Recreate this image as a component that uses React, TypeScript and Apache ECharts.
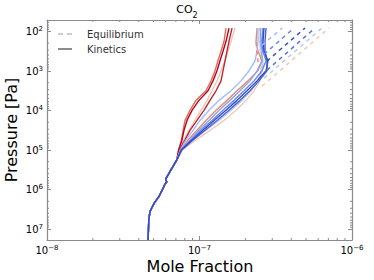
import React, { useEffect, useRef } from 'react';
import * as echarts from 'echarts';

// ---------- data ----------
const UNIT = 1e-8; // mole fractions below are given in units of 1e-8

// shared deep profile (all runs coincide below ~2e5 Pa)
const deepPressure = [1.9e7, 5.9e6, 3.7e6, 2.75e6, 2.1e6, 1.55e6, 1.03e6, 7.2e5, 6.5e5, 5.5e5, 3.2e5, 1.8e5];
const deepFraction = [4.6, 4.65, 4.73, 4.9, 5.1, 5.4, 5.7, 5.95, 6.1, 6.0, 6.5, 7.1];

// pressure grid of the upper atmosphere
const upperPressure = [1e5, 5.6e4, 3.2e4, 1.8e4, 1e4, 5.6e3, 3.2e3, 1.8e3, 1e3, 560, 320, 180, 83];

// kinetics runs (upper part)
const kinL1 = [7.3, 7.62, 7.8, 8.04, 8.66, 9.48, 11.03, 11.9, 12.64, 13.22, 13.84, 14.48, 14.92];
const kinL2 = [7.3, 7.68, 7.91, 8.28, 8.93, 9.92, 11.37, 12.26, 13.02, 13.63, 14.26, 14.92, 15.61];
const kinL3 = [7.4, 8.04, 8.66, 9.63, 10.7, 11.72, 12.83, 13.84, 14.26, 14.7, 15.15, 15.61, 16.34];
const kinL4 = [7.35, 7.91, 8.53, 9.34, 10.23, 11.2, 12.08, 13.02, 13.84, 14.7, 15.38, 16.09, 17.09];
const kinR1 = [7.5, 8.16, 9.07, 10.08, 11.54, 13.43, 16.09, 18.72, 21.12, 23.12, 23.83, 24.19, 24.19];
const kinR2 = [7.55, 8.66, 9.92, 11.54, 13.43, 15.85, 18.44, 21.44, 23.83, 25.7, 25.7, 25.31, 24.93];
const kinR3 = [7.6, 8.8, 10.23, 12.08, 14.26, 16.84, 19.58, 22.78, 25.7, 27.3, 26.09, 25.7, 26.09];
const kinR4 = [7.6, 8.93, 10.54, 12.45, 14.92, 17.62, 20.49, 23.83, 27.3, 28.13, 26.48, 26.09, 26.48];
const kinR5 = [7.65, 9.07, 10.87, 13.02, 15.61, 18.44, 21.44, 24.56, 27.71, 27.71, 26.89, 26.89, 27.3];
const kinR6 = [7.5, 8.41, 9.63, 11.03, 12.83, 15.15, 17.62, 20.8, 24.19, 25.7, 24.19, 23.48, 23.83];
const kinR7 = [7.7, 9.48, 11.72, 14.48, 17.35, 20.18, 22.78, 24.93, 25.31, 25.31, 24.93, 24.93, 25.31];
const kinR8 = [7.65, 9.07, 11.03, 13.43, 16.09, 19.0, 21.77, 24.19, 25.7, 26.09, 25.31, 24.93, 25.31];

// equilibrium runs (where they depart from kinetics)
const eqP1 = [226, 83];   const eqX1 = [25.7, 34.8];
const eqP2 = [381, 83];   const eqX2 = [26.5, 41.7];
const eqP3 = [572, 83];   const eqX3 = [27.7, 49.2];
const eqP4 = [966, 83];   const eqX4 = [27.7, 57.2];
const eqP5 = [1540, 83];  const eqX5 = [26.5, 63.5];
const eqP6 = [2450, 83];  const eqX6 = [25.7, 70.6];
const eqP7 = [610, 190];  const eqX7 = [24.2, 23.5];

const minorMantissas = [2, 3, 4, 5, 6, 7, 8, 9];
const xDecades = [1e-8, 1e-7];
const yDecades = [10, 100, 1e3, 1e4, 1e5, 1e6];

// ---------- styles ----------
const FONT = 'DejaVu Sans';
const FRAME = '#8a8a8a';
const X_MIN = 1e-8, X_MAX = 1e-6;
const Y_MIN = 52, Y_MAX = 1.9e7;

const kineticsRuns: [number[], string][] = [
  [kinL1, '#e36c55'],
  [kinL4, '#f2c6b0'],
  [kinL2, '#b40426'],
  [kinL3, '#c0282f'],
  [kinR7, '#f2cab5'],
  [kinR6, '#ef886b'],
  [kinR8, '#b2ccfb'],
  [kinR1, '#9dbdff'],
  [kinR2, '#84a7fc'],
  [kinR3, '#6687ed'],
  [kinR5, '#4a63d3'],
  [kinR4, '#3b4cc0'],
];

const eqRuns: [number[], number[], string][] = [
  [eqP6, eqX6, '#f2cab5'],
  [eqP5, eqX5, '#b2ccfb'],
  [eqP4, eqX4, '#5572df'],
  [eqP3, eqX3, '#3b4cc0'],
  [eqP2, eqX2, '#6687ed'],
  [eqP1, eqX1, '#9dbdff'],
  [eqP7, eqX7, '#ef886b'],
];

function powLabel(v: number): string {
  const l = Math.log10(v);
  const n = Math.round(l);
  if (Math.abs(l - n) > 1e-6) return '';
  const s = n < 0 ? '\u2212' + Math.abs(n) : String(n);
  return '{b|10}{s|' + s + '}';
}

const labelRich = {
  b: { fontSize: 10, lineHeight: 11, verticalAlign: 'bottom', fontFamily: FONT, color: '#000' },
  s: { fontSize: 7, lineHeight: 6, verticalAlign: 'top', fontFamily: FONT, color: '#000' },
};

export default function App() {
  const ref = useRef<HTMLDivElement>(null);

  useEffect(() => {
    if (!ref.current) return;
    const chart = echarts.init(ref.current, undefined, { renderer: 'svg' });

    const deepPoints = deepPressure.map((p, i) => [deepFraction[i] * UNIT, p]);

    const kinSeries = kineticsRuns.map(([arr, color]) => ({
      type: 'line',
      xAxisIndex: 0,
      yAxisIndex: 0,
      showSymbol: false,
      silent: true,
      lineStyle: { color, width: 1.4 },
      data: [...deepPoints, ...upperPressure.map((p, i) => [arr[i] * UNIT, p])],
    }));

    const eqSeries = eqRuns.map(([ps, xs, color]) => ({
      type: 'line',
      xAxisIndex: 0,
      yAxisIndex: 0,
      showSymbol: false,
      silent: true,
      lineStyle: { color, width: 1.5, type: [4, 4] },
      data: ps.map((p, i) => [xs[i] * UNIT, p]),
    }));

    const xMinor: number[] = [];
    xDecades.forEach((d) => minorMantissas.forEach((m) => xMinor.push(m * d)));
    const yMinor: number[] = [];
    yDecades.forEach((d) => minorMantissas.forEach((m) => {
      const v = m * d;
      if (v > Y_MIN && v < Y_MAX) yMinor.push(v);
    }));

    const minorX = {
      type: 'custom',
      xAxisIndex: 0,
      yAxisIndex: 0,
      silent: true,
      clip: false,
      data: xMinor.map((v) => [v, 1000]),
      renderItem: (params: any, api: any) => {
        const cs = params.coordSys;
        const px = api.coord([api.value(0), 1000])[0];
        const st = { stroke: FRAME, lineWidth: 1 };
        return {
          type: 'group',
          children: [
            { type: 'line', shape: { x1: px, y1: cs.y + cs.height, x2: px, y2: cs.y + cs.height - 2 }, style: st },
            { type: 'line', shape: { x1: px, y1: cs.y, x2: px, y2: cs.y + 2 }, style: st },
          ],
        };
      },
    };

    const minorY = {
      type: 'custom',
      xAxisIndex: 0,
      yAxisIndex: 0,
      silent: true,
      clip: false,
      data: yMinor.map((v) => [1e-7, v]),
      renderItem: (params: any, api: any) => {
        const cs = params.coordSys;
        const py = api.coord([1e-7, api.value(1)])[1];
        const st = { stroke: FRAME, lineWidth: 1 };
        return {
          type: 'group',
          children: [
            { type: 'line', shape: { x1: cs.x, y1: py, x2: cs.x + 2, y2: py }, style: st },
            { type: 'line', shape: { x1: cs.x + cs.width, y1: py, x2: cs.x + cs.width - 2, y2: py }, style: st },
          ],
        };
      },
    };

    const axisCommon = {
      axisLine: { show: true, lineStyle: { color: FRAME, width: 1.2 } },
      axisTick: { show: true, inside: true, length: 4, lineStyle: { color: FRAME, width: 1 } },
      splitLine: { show: false },
      minorTick: { show: false },
    };

    const option: any = {
      animation: false,
      backgroundColor: '#ffffff',
      grid: { left: 47, right: 22, top: 20, bottom: 40, containLabel: false, outerBoundsMode: 'none' },
      xAxis: [
        {
          type: 'log', logBase: 10, min: X_MIN, max: X_MAX, position: 'bottom',
          ...axisCommon,
          axisLabel: {
            show: true, margin: 4, interval: 0, showMinLabel: true, showMaxLabel: true,
            formatter: powLabel, rich: labelRich, fontFamily: FONT,
          },
        },
        {
          type: 'log', logBase: 10, min: X_MIN, max: X_MAX, position: 'top',
          ...axisCommon,
          axisLabel: { show: false },
        },
      ],
      yAxis: [
        {
          type: 'log', logBase: 10, min: Y_MIN, max: Y_MAX, inverse: true, position: 'left',
          ...axisCommon,
          axisLabel: {
            show: true, margin: 4, interval: 0,
            formatter: powLabel, rich: labelRich, fontFamily: FONT,
          },
        },
        {
          type: 'log', logBase: 10, min: Y_MIN, max: Y_MAX, inverse: true, position: 'right',
          ...axisCommon,
          axisLabel: { show: false },
        },
      ],
      series: [...kinSeries, ...eqSeries, minorX, minorY],
      graphic: [
        {
          type: 'text', left: 'center', top: 4, silent: true,
          style: {
            text: '{a|CO}{b|2}',
            rich: {
              a: { fontSize: 11, lineHeight: 13, verticalAlign: 'top', fontFamily: FONT, fill: '#000' },
              b: { fontSize: 8, lineHeight: 15, verticalAlign: 'bottom', fontFamily: FONT, fill: '#000' },
            },
          },
        },
        {
          type: 'text', x: 200, y: 266, silent: true,
          style: { text: 'Mole Fraction', fontSize: 16, fontFamily: FONT, fill: '#000', align: 'center', verticalAlign: 'middle' },
        },
        {
          type: 'text', x: 11.5, y: 130, rotation: Math.PI / 2, silent: true,
          style: { text: 'Pressure [Pa]', fontSize: 16, fontFamily: FONT, fill: '#000', align: 'center', verticalAlign: 'middle', x: 0, y: 0 },
        },
        {
          type: 'line', silent: true,
          shape: { x1: 58, y1: 34, x2: 72, y2: 34 },
          style: { stroke: '#bdbdbd', lineWidth: 1.5, lineDash: [5, 4] },
        },
        {
          type: 'text', x: 87, y: 34, silent: true,
          style: { text: 'Equilibrium', fontSize: 10, fontFamily: FONT, fill: '#333', align: 'left', verticalAlign: 'middle' },
        },
        {
          type: 'line', silent: true,
          shape: { x1: 58, y1: 49, x2: 72, y2: 49 },
          style: { stroke: '#666666', lineWidth: 1.5 },
        },
        {
          type: 'text', x: 87, y: 49, silent: true,
          style: { text: 'Kinetics', fontSize: 10, fontFamily: FONT, fill: '#333', align: 'left', verticalAlign: 'middle' },
        },
      ],
    };

    chart.setOption(option);
    return () => chart.dispose();
  }, []);

  return (
    <div
      ref={ref}
      style={{ position: 'absolute', left: 0, top: 0, width: 374, height: 280, background: '#fff' }}
    />
  );
}
